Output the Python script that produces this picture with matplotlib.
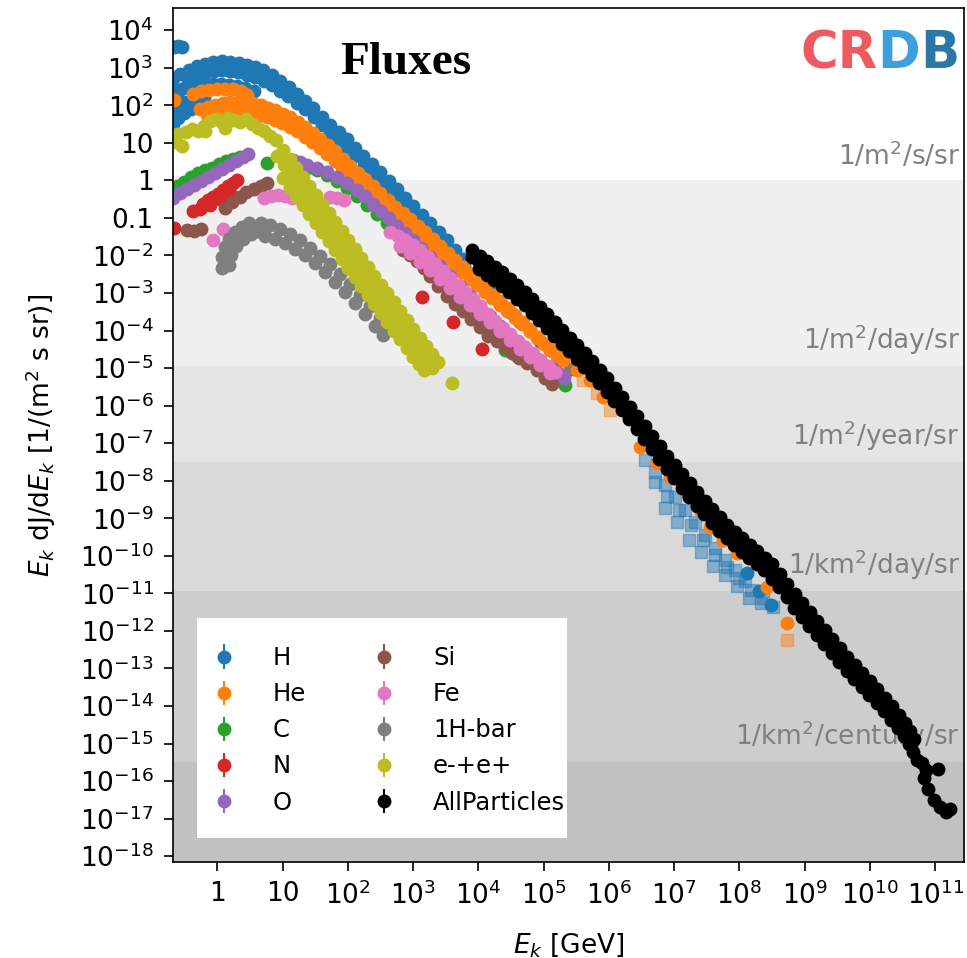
import numpy as np
import matplotlib.pyplot as plt
import matplotlib.transforms as mtransforms
from matplotlib.patches import Rectangle
from matplotlib.ticker import NullLocator, FuncFormatter

# Kinetic energy E_k [GeV] and flux E_k dJ/dE_k [1/(m^2 s sr)] per data set

# H
h_cluster_e = [0.22, 0.25, 0.29]
h_cluster_f = [3.6e3, 3.8e3, 3.6e3]
h_a_e = [0.21, 0.27, 0.364, 0.49, 0.653, 0.87, 1.17, 1.58, 2.14, 2.9, 3.85, 5.1, 6.85, 9.2, 12.4, 16.8, 22.3,
         29.6, 40, 54, 72.7, 98, 130, 173, 233, 314, 424, 573, 757, 1000, 1353, 1830, 2472, 3340, 4439, 5900]
h_a_f = [540, 680, 880, 1100, 1270, 1400, 1480, 1450, 1340, 1200, 1030, 860, 630, 440, 300, 200, 130, 84, 50,
         30, 19.4, 12.5, 7.5, 4.5, 2.7, 1.65, 0.98, 0.58, 0.345, 0.205, 0.121, 0.072, 0.043, 0.0255, 0.0143, 8.0e-3]
h_b_e = [0.36, 0.484, 0.65, 0.88, 1.19, 1.58, 2.1, 2.82, 3.8, 5.16, 7.0, 9.24, 12.2, 16.5, 22.3, 30.1, 40.6,
         53.7, 71, 96, 130, 176, 237, 314, 417, 563, 759, 1024, 1380, 1831, 2430, 3270, 4400, 5970, 8100,
         1.11e4, 1.52e4, 2.16e4, 3.08e4, 4.38e4, 6.24e4, 8.87e4, 1.26e5, 1.80e5, 2.56e5]
h_b_f = [500, 610, 720, 800, 860, 820, 760, 660, 560, 440, 340, 245, 175, 118, 79, 48, 29.5, 18.7, 11.8, 7.2,
         4.4, 2.6, 1.55, 0.95, 0.58, 0.33, 0.19, 0.114, 0.068, 0.0416, 0.0255, 0.0151, 9.0e-3, 5.4e-3, 3.2e-3,
         1.83e-3, 1.05e-3, 5.7e-4, 3.1e-4, 1.72e-4, 9.6e-5, 5.4e-5, 3.0e-5, 1.68e-5, 9.4e-6]
h_c_e = [0.21, 0.28, 0.37, 0.49, 0.65, 0.87, 1.15, 1.53, 2.0, 2.7, 3.6]
h_c_f = [252, 268, 285, 322, 343, 365, 365, 343, 322, 285, 237]
h_d_e = [0.235, 0.30, 0.39, 0.49, 0.63]
h_d_f = [107, 121, 137, 154, 164]
h_e_e = [0.21, 0.21, 0.25, 0.31, 0.39, 0.47]
h_e_f = [31, 66, 45, 62, 79, 100]
h_sq1_e = [3.61e6, 5.14e6, 7.31e6, 1.04e7, 1.48e7, 2.11e7, 3.0e7, 4.26e7, 6.07e7, 8.6e7, 1.23e8]
h_sq1_f = [3.5e-8, 1.69e-8, 7.6e-9, 3.65e-9, 1.64e-9, 7.9e-10, 3.5e-10, 1.6e-10, 7.7e-11, 4.1e-11, 2.2e-11]
h_sq2_e = [5.14e6, 7.85e6, 1.20e7, 1.83e7, 2.79e7, 4.26e7, 6.5e7, 9.9e7, 1.52e8, 2.32e8]
h_sq2_f = [9.1e-9, 3.9e-9, 1.64e-9, 6.5e-10, 2.6e-10, 1.04e-10, 5.0e-11, 2.54e-11, 1.21e-11, 7.4e-12]
h_sq3_e = [7.31e6, 1.11e7, 1.71e7, 2.6e7, 3.97e7, 6.07e7, 9.3e7, 1.42e8, 2.16e8, 3.3e8]
h_sq3_f = [1.86e-9, 7.9e-10, 2.6e-10, 1.25e-10, 5.3e-11, 3.05e-11, 1.55e-11, 7.4e-12, 5.5e-12, 4.3e-12]
h_hi_e = [1.32e8, 2.0e8, 3.08e8]
h_hi_f = [3.4e-11, 1.14e-11, 4.8e-12]

# He
he_blob_e = [0.22]
he_blob_f = [140]
he_top_e = [0.43, 0.57, 0.75, 1.0, 1.33, 1.76, 2.33, 2.9]
he_top_f = [197, 237, 252, 268, 268, 268, 237, 186]
he_a_e = [0.55, 0.715, 0.93, 1.21, 1.58, 2.07, 2.7, 3.52, 4.6, 5.95, 7.7, 10.0, 13.1, 17.1, 22.3, 29.0, 37.8,
          49.2, 64, 83.5, 109, 142, 185, 241, 314, 409, 533, 695, 905, 1180, 1540, 2005, 2610, 3390, 4400,
          5745, 7500, 9800, 1.28e4, 1.67e4, 2.17e4, 2.83e4, 3.68e4, 4.79e4, 6.24e4, 8.13e4, 1.06e5, 1.31e5, 1.62e5]
he_a_f = [79, 90, 100, 112, 121, 123, 121, 112, 100, 87, 74, 60, 48, 35.5, 26, 18.2, 12.5, 8.7, 6.0, 3.8, 2.4,
          1.61, 1.08, 0.70, 0.46, 0.296, 0.19, 0.132, 0.092, 0.062, 0.042, 0.0273, 0.0177, 0.0115, 7.5e-3,
          4.9e-3, 3.2e-3, 2.07e-3, 1.34e-3, 9.0e-4, 6.1e-4, 3.95e-4, 2.56e-4, 1.67e-4, 1.09e-4, 6.85e-5, 4.3e-5,
          3.0e-5, 2.1e-5]
he_b_e = [0.70, 0.913, 1.19, 1.54, 2.0, 2.62, 3.44, 4.47, 5.8, 7.58, 9.9, 12.9, 16.8, 21.9, 28.5, 37.0, 48,
          62.7, 82, 107, 140, 182, 237, 309, 402, 524, 683, 890, 1160, 1512, 1970, 2565, 3340, 4350, 5670, 7380,
          9600, 1.25e4, 1.63e4, 2.12e4, 2.77e4, 3.61e4, 4.7e4, 6.13e4, 8.0e4, 1.0e5, 1.26e5]
he_b_f = [54, 60, 65, 66, 65, 64, 62, 55, 48, 40, 33, 26, 20.4, 14.6, 10.4, 7.2, 5.0, 3.3, 2.2, 1.45, 0.95,
          0.64, 0.43, 0.286, 0.19, 0.129, 0.087, 0.058, 0.039, 0.0263, 0.0177, 0.0119, 8.0e-3, 5.4e-3, 3.6e-3,
          2.4e-3, 1.6e-3, 1.08e-3, 7.3e-4, 4.9e-4, 3.3e-4, 2.2e-4, 1.48e-4, 9.7e-5, 6.3e-5, 4.35e-5, 3.0e-5]
he_hi_e = [2.0e5, 3.28e5, 5.19e5, 8.2e5, 3.03e6, 5.51e6, 8.73e6, 1.59e7, 2.51e7, 3.57e7, 5.65e7, 9.3e7, 2.67e8, 5.41e8]
he_hi_f = [1.63e-5, 8.8e-6, 4.8e-6, 1.68e-6, 7.8e-8, 2.9e-8, 1.24e-8, 4.7e-9, 1.64e-9, 5.8e-10, 2.6e-10, 1.17e-10,
           1.46e-11, 1.61e-12]
he_sq_e = [2.56e5, 4.05e5, 6.6e5, 1.05e6, 5.41e8]
he_sq_f = [9.9e-6, 4.8e-6, 2.15e-6, 7.6e-7, 5.7e-13]

# C
c_low_e = [0.24, 0.31, 0.40, 0.51, 0.65, 0.84, 1.07, 1.37, 1.76, 2.25, 5.8]
c_low_f = [0.70, 0.89, 1.22, 1.55, 1.87, 2.2, 2.7, 3.2, 3.7, 4.1, 2.9]
c_hi_e = [23.9, 34, 48, 69, 98, 140, 199, 283, 402, 573, 815, 1.16e3, 1.65e3, 2.35e3, 3.34e3, 4.75e3, 6.77e3,
          9.6e3, 1.37e4, 1.95e4, 2.58e4, 3.95e4, 5.62e4, 8.0e4, 1.14e5, 1.62e5, 2.15e5]
c_hi_f = [2.2, 1.87, 1.37, 0.95, 0.62, 0.38, 0.22, 0.126, 0.072, 0.042, 0.024, 0.013, 7.0e-3, 3.6e-3, 1.72e-3,
          8.2e-4, 3.9e-4, 2.1e-4, 1.16e-4, 5.5e-5, 3.0e-5, 2.1e-5, 1.44e-5, 9.9e-6, 6.9e-6, 4.8e-6, 3.5e-6]

# N
n_low_e = [0.22, 0.43, 0.61, 0.73, 0.87, 1.04, 1.24, 1.47, 1.76, 2.0]
n_low_f = [0.053, 0.15, 0.23, 0.30, 0.36, 0.43, 0.55, 0.70, 0.84, 1.01]
n_low2_e = [0.55, 0.78, 1.11, 1.58]
n_low2_f = [0.17, 0.22, 0.32, 0.46]
n_hi_e = [1.38e3, 4.1e3, 1.15e4]
n_hi_f = [7.7e-4, 1.67e-4, 3.2e-5]

# O
o_low_e = [0.21, 0.27, 0.35, 0.44, 0.57, 0.73, 0.93, 1.19, 1.53, 1.95, 2.5, 3.0]
o_low_f = [0.34, 0.46, 0.58, 0.74, 0.95, 1.22, 1.55, 2.0, 2.5, 3.2, 4.1, 5.0]
o_mid_e = [14.6, 18.7, 23.9]
o_mid_f = [3.4, 3.0, 2.5]
o_hi_e = [34, 48, 69, 98, 140, 185, 245, 326, 432, 573, 760, 1.0e3, 1.33e3, 1.83e3, 2.61e3, 3.7e3, 5.3e3, 7.5e3,
          1.07e4, 1.52e4, 2.17e4, 3.08e4, 4.39e4, 6.24e4, 8.9e4, 1.26e5, 1.68e5, 2.07e5]
o_hi_f = [2.1, 1.65, 1.22, 0.84, 0.55, 0.38, 0.23, 0.15, 0.098, 0.060, 0.039, 0.0255, 0.0156, 9.0e-3, 5.2e-3,
          2.8e-3, 1.52e-3, 8.2e-4, 4.5e-4, 2.4e-4, 1.31e-4, 7.1e-5, 4.1e-5, 2.5e-5, 1.63e-5, 1.06e-5, 7.3e-6, 5.4e-6]

# Si
si_low_e = [0.35, 0.44, 0.57, 1.33, 1.70, 2.2, 2.8, 3.6, 4.6, 5.8]
si_low_f = [0.047, 0.044, 0.050, 0.18, 0.26, 0.36, 0.48, 0.58, 0.70, 0.84]
si_hi_e = [707, 905, 1.16e3, 1.48e3, 1.83e3, 2.43e3, 3.34e3, 4.4e3, 5.9e3, 7.8e3, 1.07e4, 1.42e4, 1.95e4, 2.58e4,
           3.31e4, 4.24e4, 5.62e4, 8.0e4, 1.06e5, 1.36e5]
si_hi_f = [0.0138, 0.0102, 7.0e-3, 4.6e-3, 2.8e-3, 1.52e-3, 8.2e-4, 5.0e-4, 3.3e-4, 2.0e-4, 1.23e-4, 7.1e-5,
           5.2e-5, 3.6e-5, 2.5e-5, 1.84e-5, 1.35e-5, 8.8e-6, 5.4e-6, 3.7e-6]

# Fe
fe_low_e = [0.87, 1.24, 5.2, 6.7, 8.6, 11, 14.1, 54, 69, 88]
fe_low_f = [0.0255, 0.050, 0.34, 0.38, 0.40, 0.38, 0.34, 0.36, 0.34, 0.30]
fe_a_e = [447, 593, 760, 1.0e3, 1.29e3, 1.71e3, 2.19e3, 2.9e3, 3.7e3, 4.9e3, 6.3e3, 8.4e3, 1.07e4, 1.42e4,
          1.82e4, 2.41e4, 3.08e4, 4.09e4, 5.23e4, 6.94e4, 8.9e4, 1.18e5, 1.51e5]
fe_a_f = [0.042, 0.033, 0.0255, 0.019, 0.0138, 9.0e-3, 5.9e-3, 3.8e-3, 2.5e-3, 1.6e-3, 1.05e-3, 6.8e-4, 4.5e-4,
          2.7e-4, 1.8e-4, 1.16e-4, 8.0e-5, 5.2e-5, 3.6e-5, 2.5e-5, 1.63e-5, 1.12e-5, 7.8e-6]
fe_b_e = [637, 905, 1.29e3, 1.83e3, 2.61e3, 3.7e3, 5.3e3, 7.5e3, 1.07e4, 1.52e4, 2.17e4, 3.08e4, 4.39e4, 6.24e4,
          8.9e4, 1.26e5]
fe_b_f = [0.0177, 0.0115, 6.6e-3, 4.1e-3, 2.3e-3, 1.34e-3, 7.7e-4, 4.7e-4, 2.7e-4, 1.67e-4, 9.6e-5, 5.5e-5,
          3.2e-5, 1.95e-5, 1.19e-5, 7.3e-6]

# 1H-bar
pb_a_e = [1.19, 1.19, 1.33, 1.53, 1.89, 2.42, 3.09]
pb_a_f = [4.6e-3, 9.0e-3, 0.0166, 0.027, 0.042, 0.057, 0.072]
pb_b_e = [1.53, 1.64, 1.95, 2.5, 3.3, 4.2]
pb_b_f = [5.5e-3, 0.0102, 0.0177, 0.027, 0.037, 0.044]
pb_c_e = [4.6, 6.5, 9.2, 13.1, 18.7, 26.6, 37.8, 54, 77, 109, 155, 221, 314, 417]
pb_c_f = [0.072, 0.064, 0.050, 0.037, 0.0255, 0.0156, 9.6e-3, 5.9e-3, 3.2e-3, 1.72e-3, 8.7e-4, 4.5e-4, 2.1e-4, 1.09e-4]
pb_d_e = [5.4, 7.7, 11, 15.7, 22.3, 31.7, 45, 64, 91, 130, 185, 264, 349]
pb_d_f = [0.033, 0.027, 0.021, 0.0147, 0.0102, 6.2e-3, 3.6e-3, 1.94e-3, 1.05e-3, 5.4e-4, 2.7e-4, 1.31e-4, 7.5e-5]

# e-+e+
ee_low_e = [0.23, 0.24, 0.29, 0.335, 0.41, 0.51, 0.63, 0.65, 0.78, 0.96, 1.19, 1.33, 1.47, 1.82, 2.25, 2.8, 3.4,
            4.2, 5.2, 6.5, 8.0]
ee_low_f = [10.4, 17, 8.1, 19.2, 23, 20.4, 27.7, 20.4, 38, 43, 35, 24.5, 45, 40, 35, 43, 31, 24.5, 20.4, 15, 11.8]
ee_a_e = [10.3, 12.9, 16.2, 20.4, 25.7, 32.3, 40.6, 51, 64, 80.8, 102, 128, 161, 202, 254, 320, 402, 506, 637,
          798, 1000, 1261, 1590, 1966, 2430]
ee_a_f = [6.4, 3.67, 2.1, 1.21, 0.70, 0.40, 0.23, 0.133, 0.077, 0.0443, 0.0255, 0.0147, 8.5e-3, 4.88e-3, 2.8e-3,
          1.67e-3, 9.9e-4, 5.7e-4, 3.3e-4, 1.9e-4, 1.09e-4, 6.4e-5, 3.8e-5, 2.34e-5, 1.44e-5]
ee_b_e = [8.3, 10.4, 13.1, 16.5, 20.8, 26.2, 32.9, 41.4, 52, 65.3, 82, 103, 130, 164, 206, 259, 326, 410, 515,
          648, 815, 1025, 1290, 1594, 1970]
ee_b_f = [4.4, 2.53, 1.46, 0.84, 0.48, 0.277, 0.16, 0.092, 0.053, 0.0306, 0.0177, 0.0102, 5.9e-3, 3.38e-3,
          1.94e-3, 1.15e-3, 6.8e-4, 3.93e-4, 2.27e-4, 1.3e-4, 7.5e-5, 4.46e-5, 2.65e-5, 1.62e-5, 9.9e-6]
ee_c_e = [10.3, 12.9, 16.2, 20.4, 25.7, 32.3, 40.6, 51, 64, 80.8, 102, 128, 161, 202, 254, 320, 402, 506, 637,
          798, 1000, 1217, 1480, 4000]
ee_c_f = [1.14, 0.66, 0.38, 0.219, 0.126, 0.073, 0.042, 0.0241, 0.0138, 7.97e-3, 4.6e-3, 2.64e-3, 1.52e-3,
          8.7e-4, 5.0e-4, 2.89e-4, 1.67e-4, 9.9e-5, 5.9e-5, 3.39e-5, 1.95e-5, 1.31e-5, 8.8e-6, 4.0e-6]

# AllParticles
all_a_e = [8.1e3, 1.05e4, 1.37e4, 1.79e4, 2.33e4, 3.03e4, 3.95e4, 5.14e4, 6.7e4, 8.74e4, 1.14e5, 1.48e5, 1.93e5,
           2.52e5, 3.28e5, 4.29e5, 5.6e5, 7.26e5, 9.4e5, 1.23e6, 1.60e6, 2.09e6, 2.72e6, 3.54e6, 4.62e6, 6.0e6,
           7.8e6, 1.02e7, 1.33e7, 1.73e7, 2.26e7, 2.95e7, 3.84e7, 5.0e7, 6.5e7, 8.49e7, 1.11e8, 1.44e8, 1.88e8,
           2.45e8, 3.19e8, 4.15e8, 5.41e8, 7.06e8, 9.2e8, 1.2e9, 1.56e9, 2.03e9, 2.64e9, 3.44e9, 4.49e9, 5.84e9,
           7.6e9, 9.9e9, 1.29e10, 1.68e10, 2.2e10, 2.76e10, 3.47e10, 4.07e10, 4.77e10]
all_a_f = [0.0138, 9.8e-3, 7.0e-3, 5.0e-3, 3.6e-3, 2.41e-3, 1.62e-3, 1.06e-3, 6.9e-4, 4.3e-4, 2.7e-4, 1.66e-4,
           1.02e-4, 6.5e-5, 4.1e-5, 2.5e-5, 1.53e-5, 9.1e-6, 5.4e-6, 3.0e-6, 1.68e-6, 9.3e-7, 5.2e-7, 2.83e-7,
           1.54e-7, 8.3e-8, 4.5e-8, 2.59e-8, 1.49e-8, 8.6e-9, 5.0e-9, 2.96e-9, 1.75e-9, 1.07e-9, 6.6e-10,
           4.4e-10, 2.94e-10, 1.97e-10, 1.32e-10, 8.9e-11, 6.0e-11, 3.24e-11, 1.75e-11, 9.7e-12, 5.4e-12,
           3.13e-12, 1.82e-12, 1.05e-12, 6.0e-13, 3.46e-13, 2.0e-13, 1.22e-13, 7.5e-14, 4.58e-14, 2.8e-14,
           1.66e-14, 9.8e-15, 5.9e-15, 3.5e-15, 2.14e-15, 1.31e-15]
all_b_e = [1.03e4, 1.34e4, 1.75e4, 2.28e4, 2.98e4, 3.9e4, 5.1e4, 6.62e4, 8.6e4, 1.12e5, 1.46e5, 1.9e5, 2.47e5,
           3.22e5, 4.2e5, 5.46e5, 7.1e5, 9.27e5, 1.21e6, 1.58e6, 2.05e6, 2.67e6, 3.48e6, 4.53e6, 5.9e6, 7.68e6,
           1.0e7, 1.3e7, 1.70e7, 2.22e7, 2.89e7, 3.77e7, 4.91e7, 6.38e7, 8.3e7, 1.09e8, 1.42e8, 1.85e8, 2.40e8,
           3.13e8, 4.07e8, 5.3e8, 6.9e8, 8.99e8, 1.17e9, 1.53e9, 2.0e9, 2.6e9, 3.39e9, 4.4e9, 5.7e9, 7.44e9,
           9.7e9, 1.27e10, 1.66e10, 2.12e10, 2.71e10, 3.29e10, 4.0e10, 4.61e10, 5.31e10]
all_b_f = [4.3e-3, 3.08e-3, 2.2e-3, 1.52e-3, 1.05e-3, 7.1e-4, 4.8e-4, 2.99e-4, 1.86e-4, 1.15e-4, 7.1e-5, 4.5e-5,
           2.83e-5, 1.72e-5, 1.05e-5, 6.5e-6, 4.0e-6, 2.3e-6, 1.32e-6, 7.5e-7, 4.3e-7, 2.34e-7, 1.27e-7, 6.9e-8,
           3.7e-8, 2.08e-8, 1.17e-8, 6.5e-9, 3.6e-9, 2.15e-9, 1.28e-9, 7.6e-10, 4.5e-10, 2.94e-10, 1.92e-10,
           1.29e-10, 8.7e-11, 6.0e-11, 4.2e-11, 2.48e-11, 1.46e-11, 7.8e-12, 4.2e-12, 2.37e-12, 1.34e-12, 7.7e-13,
           4.4e-13, 2.54e-13, 1.47e-13, 8.7e-14, 5.2e-14, 3.18e-14, 1.94e-14, 1.19e-14, 7.3e-15, 4.3e-15,
           2.57e-15, 1.57e-15, 9.6e-16, 5.9e-16, 3.6e-16]
all_c_e = [8.07e3, 1.01e4, 1.28e4, 1.66e4, 2.17e4, 2.82e4, 3.68e4, 4.80e4, 6.24e4, 8.13e4, 1.06e5, 1.38e5, 1.80e5,
           2.34e5, 3.05e5, 3.98e5, 5.19e5, 6.76e5, 8.81e5, 1.15e6, 1.49e6, 1.95e6, 2.54e6, 3.30e6, 4.30e6, 5.61e6,
           7.31e6, 9.52e6, 1.24e7, 1.62e7, 2.11e7, 2.74e7, 3.57e7, 4.66e7, 6.07e7, 7.91e7, 1.03e8, 1.34e8, 1.75e8,
           2.28e8, 2.97e8, 3.87e8, 5.04e8, 6.57e8, 8.55e8, 1.11e9, 1.45e9, 1.89e9, 2.47e9, 3.21e9, 4.19e9, 5.46e9,
           7.1e9, 9.3e9, 1.21e10, 1.57e10, 2.05e10, 2.58e10, 3.24e10, 3.79e10, 4.45e10]
all_c_f = [9.0e-3, 6.8e-3, 5.2e-3, 3.7e-3, 2.64e-3, 1.77e-3, 1.19e-3, 7.7e-4, 5.0e-4, 3.18e-4, 2.0e-4, 1.23e-4,
           7.5e-5, 4.75e-5, 3.0e-5, 1.84e-5, 1.12e-5, 6.7e-6, 3.96e-6, 2.28e-6, 1.31e-6, 7.3e-7, 4.1e-7, 2.22e-7,
           1.20e-7, 6.5e-8, 3.52e-8, 1.97e-8, 1.10e-8, 6.3e-9, 3.65e-9, 2.16e-9, 1.28e-9, 7.9e-10, 4.8e-10,
           3.24e-10, 2.17e-10, 1.46e-10, 9.8e-11, 6.8e-11, 4.7e-11, 2.54e-11, 1.37e-11, 7.4e-12, 4.0e-12, 2.32e-12,
           1.34e-12, 7.7e-13, 4.4e-13, 2.55e-13, 1.47e-13, 9.0e-14, 5.5e-14, 3.37e-14, 2.06e-14, 1.26e-14,
           7.7e-15, 4.6e-15, 2.73e-15, 1.72e-15, 1.09e-15]
all_tail_e = [6.3e10, 7.3e10, 1.11e11, 6.6e10, 7.8e10, 9.7e10, 1.19e11, 1.48e11, 1.70e11]
all_tail_f = [3.0e-16, 1.95e-16, 2.07e-16, 1.19e-16, 6.1e-17, 3.1e-17, 2.0e-17, 1.48e-17, 1.78e-17]

# name, colour, circle data sets, square data sets
series = [
    ('H', 'tab:blue',
     [(h_a_e, h_a_f), (h_b_e, h_b_f), (h_c_e, h_c_f), (h_d_e, h_d_f), (h_e_e, h_e_f),
      (h_cluster_e, h_cluster_f), (h_hi_e, h_hi_f)],
     [(h_sq1_e, h_sq1_f), (h_sq2_e, h_sq2_f), (h_sq3_e, h_sq3_f)]),
    ('He', 'tab:orange',
     [(he_a_e, he_a_f), (he_b_e, he_b_f), (he_top_e, he_top_f), (he_blob_e, he_blob_f), (he_hi_e, he_hi_f)],
     [(he_sq_e, he_sq_f)]),
    ('C', 'tab:green', [(c_low_e, c_low_f), (c_hi_e, c_hi_f)], []),
    ('N', 'tab:red', [(n_low_e, n_low_f), (n_low2_e, n_low2_f), (n_hi_e, n_hi_f)], []),
    ('O', 'tab:purple', [(o_low_e, o_low_f), (o_mid_e, o_mid_f), (o_hi_e, o_hi_f)], []),
    ('Si', 'tab:brown', [(si_low_e, si_low_f), (si_hi_e, si_hi_f)], []),
    ('Fe', 'tab:pink', [(fe_low_e, fe_low_f), (fe_b_e, fe_b_f), (fe_a_e, fe_a_f)], []),
    ('1H-bar', 'tab:gray', [(pb_a_e, pb_a_f), (pb_b_e, pb_b_f), (pb_c_e, pb_c_f), (pb_d_e, pb_d_f)], []),
    ('e-+e+', 'tab:olive', [(ee_low_e, ee_low_f), (ee_c_e, ee_c_f), (ee_b_e, ee_b_f), (ee_a_e, ee_a_f)], []),
    ('AllParticles', 'black',
     [(all_a_e, all_a_f), (all_b_e, all_b_f), (all_c_e, all_c_f), (all_tail_e, all_tail_f)], []),
]

# flux levels shown as grey bands
band_edges = [1.0, 1.16e-5, 3.17e-8, 1.16e-11, 3.17e-16]
band_names = ['1/m$^2$/s/sr', '1/m$^2$/day/sr', '1/m$^2$/year/sr', '1/km$^2$/day/sr', '1/km$^2$/century/sr']
band_colors = ['#f0f0f0', '#e5e5e5', '#d9d9d9', '#cdcdcd', '#c1c1c1']

x_decades = list(range(0, 12))
y_decades = list(range(-18, 5))

xmin, xmax = 0.21, 2.8e11
ymin, ymax = 7.0e-19, 3.9e4

fig = plt.figure(figsize=(9.67, 9.58), dpi=100)
ax = fig.add_axes([0.1789, 0.1002, 0.8185, 0.8914])
ax.set_xscale('log')
ax.set_yscale('log')

lower = band_edges[1:] + [ymin]
for top, bot, col in zip(band_edges, lower, band_colors):
    ax.axhspan(bot, top, color=col, lw=0, zorder=0)

trans = mtransforms.blended_transform_factory(ax.transAxes, ax.transData)
for edge, name in zip(band_edges, band_names):
    ax.text(0.994, edge * 1.75, name, transform=trans, ha='right', va='bottom',
            fontsize=19, color='#808080', zorder=1)

for name, col, circles, squares in series:
    for i, (e, f) in enumerate(circles):
        f = np.array(f)
        ax.errorbar(e, f, yerr=np.zeros(len(f)), fmt='o', color=col, ms=9,
                    label=name if i == 0 else '_nolegend_', zorder=2)
    for e, f in squares:
        f = np.array(f)
        ax.errorbar(e, f, yerr=np.zeros(len(f)), fmt='s', color=col, ms=9,
                    alpha=0.45, label='_nolegend_', zorder=2)


def decade_label(v, pos):
    n = int(round(np.log10(v)))
    if -1 <= n <= 1:
        return f'{10.0 ** n:g}'
    return rf'$10^{{{n}}}$'


ax.set_xticks([10.0 ** n for n in x_decades])
ax.set_yticks([10.0 ** n for n in y_decades])
for axis in (ax.xaxis, ax.yaxis):
    axis.set_minor_locator(NullLocator())
    axis.set_major_formatter(FuncFormatter(decade_label))
ax.set_xlim(xmin, xmax)
ax.set_ylim(ymin, ymax)

ax.tick_params(which='major', direction='out', length=6.5, width=1.2, labelsize=19, pad=7.5)
for sp in ax.spines.values():
    sp.set_linewidth(1.2)

ax.set_xlabel('$E_k$ [GeV]', fontsize=19, labelpad=15)
ax.set_ylabel('$E_k$ dJ/d$E_k$ [1/(m$^2$ s sr)]', fontsize=19, labelpad=16)

ax.text(0.2944, 0.9227, 'Fluxes', transform=ax.transAxes, ha='center', va='baseline',
        fontsize=34, fontweight='bold', family='Liberation Serif', zorder=5)

# CRDB logo lettering
ax.text(0.7922, 0.9297, 'CR', transform=ax.transAxes, ha='left', va='baseline',
        fontsize=37, fontweight='bold', color='#ef5a5e', zorder=5)
ax.text(0.8895, 0.9297, 'D', transform=ax.transAxes, ha='left', va='baseline',
        fontsize=37, fontweight='bold', color='#3ba0dc', zorder=5)
ax.text(0.9438, 0.9297, 'B', transform=ax.transAxes, ha='left', va='baseline',
        fontsize=37, fontweight='bold', color='#2a78a3', zorder=5)

# white legend panel
ax.add_patch(Rectangle((0.0303, 0.0281), 0.4675, 0.2576, transform=ax.transAxes,
                       facecolor='white', edgecolor='none', zorder=9))
leg = ax.legend(ncol=2, loc='upper left', bbox_to_anchor=(0.054, 0.2529), borderaxespad=0,
                borderpad=0, frameon=False, fontsize=17.5, handlelength=0.7, handletextpad=1.65,
                columnspacing=2.87, labelspacing=0.5, numpoints=1)
leg.set_zorder(10)

fig.savefig('out.png', dpi=100)
